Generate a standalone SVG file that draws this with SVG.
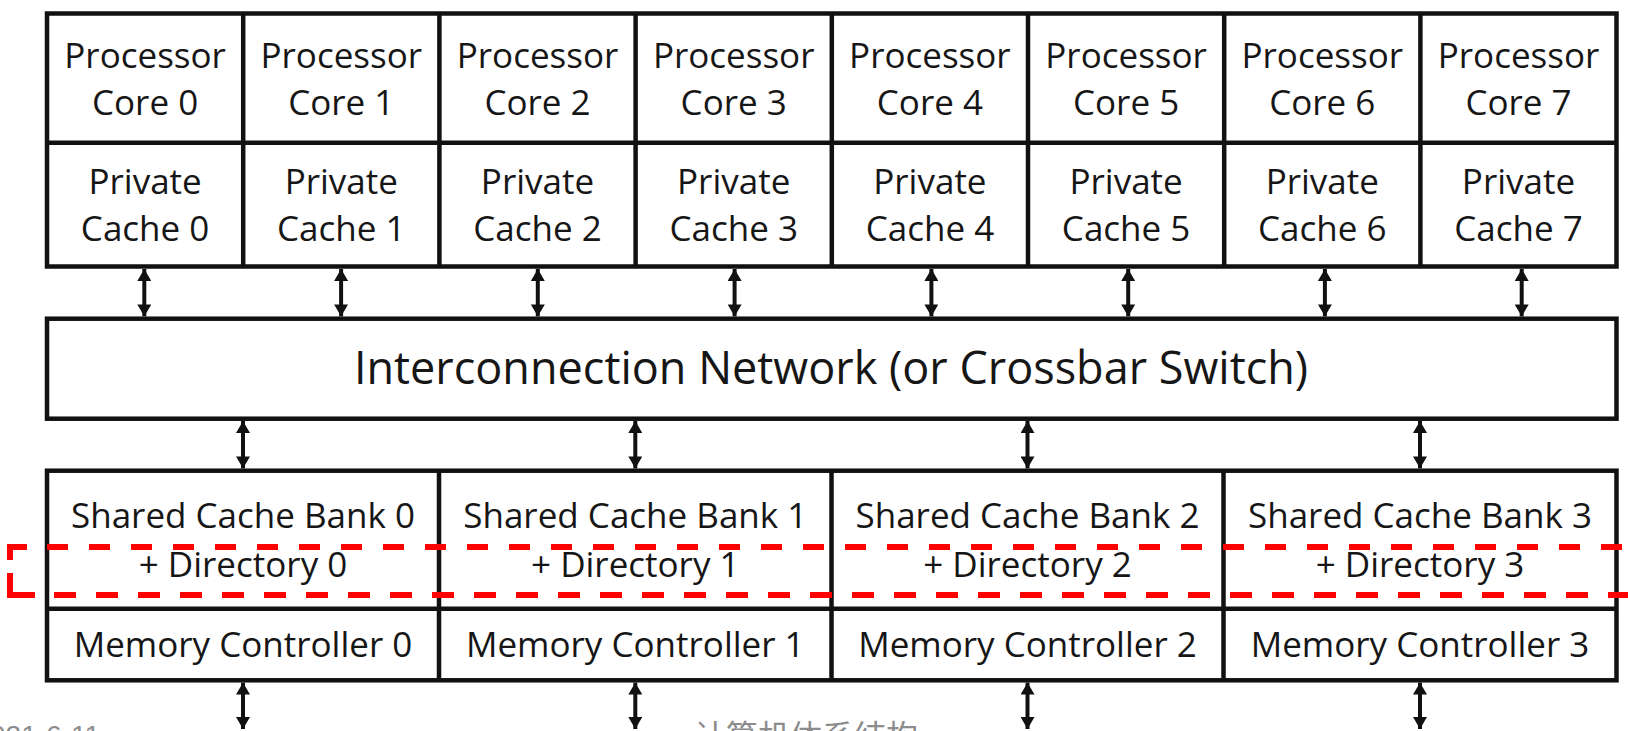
<svg xmlns="http://www.w3.org/2000/svg" width="1628" height="731" viewBox="0 0 1628 731">
  <defs>
    <style>
      .box { fill: #ffffff; stroke: #111111; stroke-width: 4.5; }
      .div { stroke: #111111; stroke-width: 4.5; fill: none; }
      .lbl { font-family: "Open Sans", "Liberation Sans", sans-serif; font-size: 35px; fill: #161616; text-anchor: middle; }
      .big { font-size: 45px; }
      .conn { stroke: #111111; stroke-width: 4; fill: none; marker-start: url(#ah); marker-end: url(#ah); }
      .redbox { stroke: #ff0000; stroke-width: 6; fill: none; }
      .foot { font-family: "Liberation Sans", "Noto Sans CJK SC", sans-serif; fill: #8c8c8c; }
    </style>
    <marker id="ah" viewBox="0 0 12 14" refX="12" refY="7" markerWidth="12" markerHeight="14" markerUnits="userSpaceOnUse" orient="auto-start-reverse">
      <path d="M0,0 L12,7 L0,14 z" fill="#111111"/>
    </marker>
  </defs>
  <rect width="1628" height="731" fill="#ffffff"/>

  <!-- top grid of cores and private caches -->
  <g id="cores-grid">
    <rect class="box" x="47" y="13.5" width="1569.5" height="253"/>
    <path class="div" d="M47 142.7 H1616.5 M243.2 13.5 V266.5 M439.4 13.5 V266.5 M635.6 13.5 V266.5 M831.8 13.5 V266.5 M1028 13.5 V266.5 M1224.2 13.5 V266.5 M1420.4 13.5 V266.5"/>
  </g>
  <g id="core0"><text class="lbl" x="145.1" y="68">Processor</text><text class="lbl" x="145.1" y="115">Core 0</text></g>
  <g id="core1"><text class="lbl" x="341.3" y="68">Processor</text><text class="lbl" x="341.3" y="115">Core 1</text></g>
  <g id="core2"><text class="lbl" x="537.5" y="68">Processor</text><text class="lbl" x="537.5" y="115">Core 2</text></g>
  <g id="core3"><text class="lbl" x="733.7" y="68">Processor</text><text class="lbl" x="733.7" y="115">Core 3</text></g>
  <g id="core4"><text class="lbl" x="929.9" y="68">Processor</text><text class="lbl" x="929.9" y="115">Core 4</text></g>
  <g id="core5"><text class="lbl" x="1126.1" y="68">Processor</text><text class="lbl" x="1126.1" y="115">Core 5</text></g>
  <g id="core6"><text class="lbl" x="1322.3" y="68">Processor</text><text class="lbl" x="1322.3" y="115">Core 6</text></g>
  <g id="core7"><text class="lbl" x="1518.5" y="68">Processor</text><text class="lbl" x="1518.5" y="115">Core 7</text></g>

  <g id="cache0"><text class="lbl" x="145.1" y="194">Private</text><text class="lbl" x="145.1" y="241">Cache 0</text></g>
  <g id="cache1"><text class="lbl" x="341.3" y="194">Private</text><text class="lbl" x="341.3" y="241">Cache 1</text></g>
  <g id="cache2"><text class="lbl" x="537.5" y="194">Private</text><text class="lbl" x="537.5" y="241">Cache 2</text></g>
  <g id="cache3"><text class="lbl" x="733.7" y="194">Private</text><text class="lbl" x="733.7" y="241">Cache 3</text></g>
  <g id="cache4"><text class="lbl" x="929.9" y="194">Private</text><text class="lbl" x="929.9" y="241">Cache 4</text></g>
  <g id="cache5"><text class="lbl" x="1126.1" y="194">Private</text><text class="lbl" x="1126.1" y="241">Cache 5</text></g>
  <g id="cache6"><text class="lbl" x="1322.3" y="194">Private</text><text class="lbl" x="1322.3" y="241">Cache 6</text></g>
  <g id="cache7"><text class="lbl" x="1518.5" y="194">Private</text><text class="lbl" x="1518.5" y="241">Cache 7</text></g>

  <!-- interconnection network -->
  <g id="network">
    <rect class="box" x="47" y="318.7" width="1569.5" height="100"/>
    <text class="lbl big" x="831" y="384">Interconnection Network (or Crossbar Switch)</text>
  </g>

  <!-- bottom banks -->
  <g id="banks-grid">
    <rect class="box" x="47" y="470.7" width="1569.5" height="209.6"/>
    <path class="div" d="M47 608.7 H1616.5 M439 470.7 V680.3 M831.5 470.7 V680.3 M1223.5 470.7 V680.3"/>
  </g>
  <g id="bank0"><text class="lbl" x="243" y="528">Shared Cache Bank 0</text><text class="lbl" x="243" y="577">+ Directory 0</text></g>
  <g id="bank1"><text class="lbl" x="635.3" y="528">Shared Cache Bank 1</text><text class="lbl" x="635.3" y="577">+ Directory 1</text></g>
  <g id="bank2"><text class="lbl" x="1027.5" y="528">Shared Cache Bank 2</text><text class="lbl" x="1027.5" y="577">+ Directory 2</text></g>
  <g id="bank3"><text class="lbl" x="1420" y="528">Shared Cache Bank 3</text><text class="lbl" x="1420" y="577">+ Directory 3</text></g>
  <g id="mc0"><text class="lbl" x="243" y="657">Memory Controller 0</text></g>
  <g id="mc1"><text class="lbl" x="635.3" y="657">Memory Controller 1</text></g>
  <g id="mc2"><text class="lbl" x="1027.5" y="657">Memory Controller 2</text></g>
  <g id="mc3"><text class="lbl" x="1420" y="657">Memory Controller 3</text></g>

  <!-- connectors -->
  <g id="connectors">
    <path class="conn" d="M144.3 269 V316.4"/>
    <path class="conn" d="M341.1 269 V316.4"/>
    <path class="conn" d="M537.8 269 V316.4"/>
    <path class="conn" d="M734.6 269 V316.4"/>
    <path class="conn" d="M931.4 269 V316.4"/>
    <path class="conn" d="M1128.2 269 V316.4"/>
    <path class="conn" d="M1324.9 269 V316.4"/>
    <path class="conn" d="M1521.7 269 V316.4"/>
    <path class="conn" d="M243 421 V468.4"/>
    <path class="conn" d="M635.3 421 V468.4"/>
    <path class="conn" d="M1027.5 421 V468.4"/>
    <path class="conn" d="M1420 421 V468.4"/>
    <path class="conn" d="M243 682.6 V729"/>
    <path class="conn" d="M635.3 682.6 V729"/>
    <path class="conn" d="M1027.5 682.6 V729"/>
    <path class="conn" d="M1420 682.6 V729"/>
  </g>

  <!-- red dashed highlight -->
  <g id="highlight">
    <path class="redbox" d="M10 560 V547 H27"/>
    <path class="redbox" d="M10 573 V595 H35"/>
    <path class="redbox" d="M47 547 H1650" stroke-dasharray="21 21"/>
    <path class="redbox" d="M54 595 H1650" stroke-dasharray="22 20"/>
  </g>

  <!-- footer -->
  <g id="footer">
    <text class="foot" x="100" y="745" font-size="28" text-anchor="end">2021-6-11</text>
    <text class="foot" x="806" y="748" font-size="32" text-anchor="middle" font-family="'Noto Sans CJK SC', sans-serif">计算机体系结构</text>
  </g>
</svg>
